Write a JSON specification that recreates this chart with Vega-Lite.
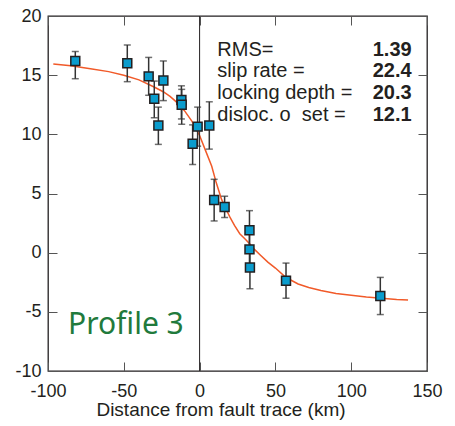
{
  "$schema": "https://vega.github.io/schema/vega-lite/v6.json",
  "width": 379,
  "height": 355,
  "autosize": {"type": "none"},
  "padding": {"left": 48, "top": 16, "right": 28, "bottom": 55},
  "background": "white",
  "config": {
    "view": {"stroke": "#231f20", "strokeWidth": 1.3},
    "axis": {"grid": false, "domain": false, "tickColor": "#555555", "tickWidth": 1, "tickSize": -9, "labelFont": "Liberation Sans", "labelFontSize": 18, "labelColor": "#231f20", "titleFont": "Liberation Sans", "titleColor": "#231f20", "labelFlush": false, "labelOverlap": false, "labelExpr": "'' + datum.value"}
  },
  "datasets": {
    "pts": [
      {"x": -82, "y": 16.2, "lo": 14.7, "hi": 17.0},
      {"x": -47.7, "y": 16.0, "lo": 14.45, "hi": 17.55},
      {"x": -33.6, "y": 14.9, "lo": 13.3, "hi": 16.5},
      {"x": -29.9, "y": 13.0, "lo": 11.4, "hi": 14.5},
      {"x": -27.2, "y": 10.75, "lo": 9.15, "hi": 12.3},
      {"x": -23.9, "y": 14.55, "lo": 12.85, "hi": 16.2},
      {"x": -12, "y": 12.9, "lo": 11.3, "hi": 14.1},
      {"x": -11.8, "y": 12.5, "lo": 10.85, "hi": 13.8},
      {"x": -4.6, "y": 9.2, "lo": 7.45, "hi": 10.8},
      {"x": -1.3, "y": 10.65, "lo": 9.0, "hi": 12.3},
      {"x": 6.4, "y": 10.75, "lo": 8.75, "hi": 12.75},
      {"x": 9.6, "y": 4.45, "lo": 2.68, "hi": 6.2},
      {"x": 16.5, "y": 3.86, "lo": 2.97, "hi": 4.77},
      {"x": 32.9, "y": 1.9, "lo": 0.25, "hi": 3.55},
      {"x": 32.9, "y": 0.28, "lo": -1.3, "hi": 1.9},
      {"x": 33.2, "y": -1.25, "lo": -3.05, "hi": 0.5},
      {"x": 57, "y": -2.37, "lo": -3.85, "hi": -0.88},
      {"x": 119.2, "y": -3.67, "lo": -5.23, "hi": -2.09}
    ],
    "curve": [
      {"x": -96.5, "y": 15.95}, {"x": -85, "y": 15.8}, {"x": -72, "y": 15.55}, {"x": -60, "y": 15.3},
      {"x": -50, "y": 15.0}, {"x": -40, "y": 14.6}, {"x": -30, "y": 14.0}, {"x": -24, "y": 13.6},
      {"x": -19.5, "y": 13.2}, {"x": -15, "y": 12.7}, {"x": -10, "y": 12.0}, {"x": -5, "y": 11.1},
      {"x": 0, "y": 9.9}, {"x": 4, "y": 8.6}, {"x": 8, "y": 7.3}, {"x": 11, "y": 5.9},
      {"x": 14.5, "y": 4.5}, {"x": 17, "y": 3.8}, {"x": 20, "y": 3.0}, {"x": 23, "y": 2.3},
      {"x": 26.5, "y": 1.6}, {"x": 30, "y": 1.15}, {"x": 33, "y": 0.75}, {"x": 36, "y": 0.3},
      {"x": 40, "y": -0.2}, {"x": 45, "y": -0.8}, {"x": 50, "y": -1.3}, {"x": 57, "y": -2.1},
      {"x": 65, "y": -2.65}, {"x": 72, "y": -2.95}, {"x": 80, "y": -3.2}, {"x": 90, "y": -3.45},
      {"x": 100, "y": -3.6}, {"x": 110, "y": -3.75}, {"x": 120, "y": -3.85}, {"x": 130, "y": -3.95},
      {"x": 137.5, "y": -4.0}
    ],
    "notes": [
      {"label": "RMS=", "value": "1.39", "y": 16.59},
      {"label": "slip rate =", "value": "22.4", "y": 14.83},
      {"label": "locking depth =", "value": "20.3", "y": 13.0},
      {"label": "disloc. o\u00a0\u00a0set =", "value": "12.1", "y": 11.13}
    ]
  },
  "resolve": {"axis": {"x": "independent", "y": "independent"}},
  "layer": [
    {
      "data": {"name": "curve"},
      "mark": {"type": "line", "color": "#f15a29", "strokeWidth": 1.5},
      "encoding": {
        "x": {"field": "x", "type": "quantitative", "scale": {"domain": [-100, 150], "nice": false, "zero": false},
              "axis": {"orient": "top", "values": [-100, -50, 0, 50, 100, 150], "labels": false, "title": null}},
        "y": {"field": "y", "type": "quantitative", "scale": {"domain": [-10, 20], "nice": false, "zero": false},
              "axis": {"orient": "right", "values": [-10, -5, 0, 5, 10, 15, 20], "labels": false, "title": null}}
      }
    },
    {
      "data": {"values": [{"z": 0}]},
      "mark": {"type": "rule", "color": "#231f20", "strokeWidth": 1},
      "encoding": {
        "x": {"field": "z", "type": "quantitative", "axis": null}
      }
    },
    {
      "data": {"name": "pts"},
      "mark": {"type": "rule", "color": "#333333", "strokeWidth": 1.5},
      "encoding": {
        "x": {"field": "x", "type": "quantitative",
              "axis": {"orient": "bottom", "values": [-100, -50, 0, 50, 100, 150], "labelPadding": 20,
                       "title": "Distance from fault trace (km)", "titleFontSize": 19, "titleFontWeight": "normal",
                       "titleX": 172.5, "titleY": 44.7, "titleBaseline": "alphabetic", "titleAlign": "center"}},
        "y": {"field": "lo", "type": "quantitative",
              "axis": {"orient": "left", "values": [-10, -5, 0, 5, 10, 15, 20], "labelPadding": 16, "title": null}},
        "y2": {"field": "hi"}
      }
    },
    {
      "data": {"name": "pts"},
      "mark": {"type": "tick", "orient": "horizontal", "color": "#333333", "size": 7, "thickness": 1.5},
      "encoding": {
        "x": {"field": "x", "type": "quantitative", "axis": null},
        "y": {"field": "lo", "type": "quantitative", "axis": null}
      }
    },
    {
      "data": {"name": "pts"},
      "mark": {"type": "tick", "orient": "horizontal", "color": "#333333", "size": 7, "thickness": 1.5},
      "encoding": {
        "x": {"field": "x", "type": "quantitative", "axis": null},
        "y": {"field": "hi", "type": "quantitative", "axis": null}
      }
    },
    {
      "data": {"name": "pts"},
      "mark": {"type": "point", "shape": "square", "filled": true, "fill": "#0a9ccd", "stroke": "#231f20", "strokeWidth": 1.5, "size": 80, "opacity": 1},
      "encoding": {
        "x": {"field": "x", "type": "quantitative", "axis": null},
        "y": {"field": "y", "type": "quantitative", "axis": null}
      }
    },
    {
      "data": {"name": "notes"},
      "mark": {"type": "text", "align": "left", "baseline": "alphabetic", "font": "Liberation Sans", "fontSize": 20, "color": "#231f20"},
      "encoding": {
        "x": {"datum": 11.7, "type": "quantitative", "axis": null},
        "y": {"field": "y", "type": "quantitative", "axis": null},
        "text": {"field": "label"}
      }
    },
    {
      "data": {"name": "notes"},
      "mark": {"type": "text", "align": "right", "baseline": "alphabetic", "font": "Liberation Sans", "fontSize": 20, "fontWeight": "bold", "color": "#231f20"},
      "encoding": {
        "x": {"datum": 139.9, "type": "quantitative", "axis": null},
        "y": {"field": "y", "type": "quantitative", "axis": null},
        "text": {"field": "value"}
      }
    },
    {
      "data": {"values": [{"t": "Profile 3"}]},
      "mark": {"type": "text", "align": "left", "baseline": "alphabetic", "font": "Noto Sans", "fontSize": 30, "color": "#217a3c"},
      "encoding": {
        "x": {"datum": -86.8, "type": "quantitative", "axis": null},
        "y": {"datum": -6.84, "type": "quantitative", "axis": null},
        "text": {"field": "t"}
      }
    }
  ]
}
